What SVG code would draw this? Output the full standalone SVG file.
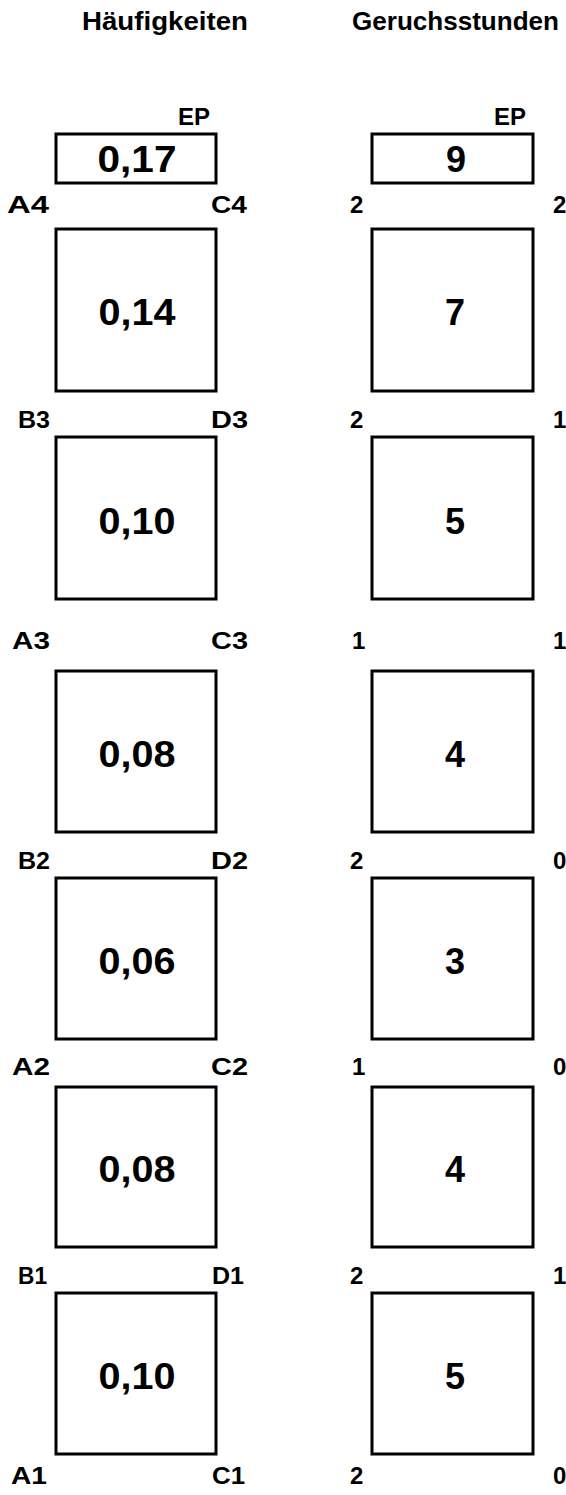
<svg xmlns="http://www.w3.org/2000/svg" width="566" height="1495" viewBox="0 0 566 1495">
<style>
text{font-family:"Liberation Sans",Arial,sans-serif;font-weight:bold;fill:#000}
.box{fill:#fff;stroke:#000;stroke-width:3}
.hd{font-size:25px}
.val{font-size:36px;text-anchor:middle}
.lb{font-size:24px}
</style>
<rect width="566" height="1495" fill="#fff"/>
<g id="headings">
<text class="hd" x="82" y="30" textLength="166" lengthAdjust="spacingAndGlyphs">Häufigkeiten</text>
<text class="hd" x="352" y="30" textLength="207" lengthAdjust="spacingAndGlyphs">Geruchsstunden</text>
</g>
<g id="ep-left">
<text class="lb" x="178" y="125" textLength="32" lengthAdjust="spacingAndGlyphs">EP</text>
<rect class="box" x="56" y="134" width="160" height="49"/>
<text class="val" x="137" y="172" textLength="79" lengthAdjust="spacingAndGlyphs">0,17</text>
</g>
<g id="ep-right">
<text class="lb" x="494" y="125" textLength="32" lengthAdjust="spacingAndGlyphs">EP</text>
<rect class="box" x="372" y="134" width="161" height="49"/>
<text class="val" x="456" y="172">9</text>
</g>
<g id="h4"><rect class="box" x="56" y="229" width="160" height="162"/><text class="val" x="137" y="325" textLength="77" lengthAdjust="spacingAndGlyphs">0,14</text></g>
<g id="g4"><rect class="box" x="372" y="229" width="161" height="162"/><text class="val" x="455" y="325">7</text></g>
<g id="h3"><rect class="box" x="56" y="437" width="160" height="162"/><text class="val" x="137" y="534" textLength="77" lengthAdjust="spacingAndGlyphs">0,10</text></g>
<g id="g3"><rect class="box" x="372" y="437" width="161" height="162"/><text class="val" x="455" y="534">5</text></g>
<g id="h2b"><rect class="box" x="56" y="671" width="160" height="161"/><text class="val" x="137" y="767" textLength="77" lengthAdjust="spacingAndGlyphs">0,08</text></g>
<g id="g2b"><rect class="box" x="372" y="671" width="161" height="161"/><text class="val" x="455" y="767">4</text></g>
<g id="h2"><rect class="box" x="56" y="878" width="160" height="161"/><text class="val" x="137" y="974" textLength="77" lengthAdjust="spacingAndGlyphs">0,06</text></g>
<g id="g2"><rect class="box" x="372" y="878" width="161" height="161"/><text class="val" x="455" y="974">3</text></g>
<g id="h1b"><rect class="box" x="56" y="1087" width="160" height="160"/><text class="val" x="137" y="1182" textLength="77" lengthAdjust="spacingAndGlyphs">0,08</text></g>
<g id="g1b"><rect class="box" x="372" y="1087" width="161" height="160"/><text class="val" x="455" y="1182">4</text></g>
<g id="h1"><rect class="box" x="56" y="1293" width="160" height="161"/><text class="val" x="137" y="1389" textLength="77" lengthAdjust="spacingAndGlyphs">0,10</text></g>
<g id="g1"><rect class="box" x="372" y="1293" width="161" height="161"/><text class="val" x="455" y="1389">5</text></g>
<g id="labels">
<text class="lb" x="7" y="213" textLength="42" lengthAdjust="spacingAndGlyphs">A4</text>
<text class="lb" x="211" y="213" textLength="36" lengthAdjust="spacingAndGlyphs">C4</text>
<text class="lb" x="350" y="213">2</text>
<text class="lb" x="553" y="213">2</text>
<text class="lb" x="18" y="428" textLength="32" lengthAdjust="spacingAndGlyphs">B3</text>
<text class="lb" x="211" y="428" textLength="37" lengthAdjust="spacingAndGlyphs">D3</text>
<text class="lb" x="350" y="428">2</text>
<text class="lb" x="553" y="428">1</text>
<text class="lb" x="12" y="649" textLength="38" lengthAdjust="spacingAndGlyphs">A3</text>
<text class="lb" x="211" y="649" textLength="37" lengthAdjust="spacingAndGlyphs">C3</text>
<text class="lb" x="352" y="649">1</text>
<text class="lb" x="553" y="649">1</text>
<text class="lb" x="18" y="869" textLength="32" lengthAdjust="spacingAndGlyphs">B2</text>
<text class="lb" x="211" y="869" textLength="37" lengthAdjust="spacingAndGlyphs">D2</text>
<text class="lb" x="350" y="869">2</text>
<text class="lb" x="553" y="869">0</text>
<text class="lb" x="12" y="1075" textLength="38" lengthAdjust="spacingAndGlyphs">A2</text>
<text class="lb" x="211" y="1075" textLength="37" lengthAdjust="spacingAndGlyphs">C2</text>
<text class="lb" x="352" y="1075">1</text>
<text class="lb" x="553" y="1075">0</text>
<text class="lb" x="18" y="1284" textLength="29" lengthAdjust="spacingAndGlyphs">B1</text>
<text class="lb" x="212" y="1284" textLength="32" lengthAdjust="spacingAndGlyphs">D1</text>
<text class="lb" x="350" y="1284">2</text>
<text class="lb" x="553" y="1284">1</text>
<text class="lb" x="11" y="1484" textLength="36" lengthAdjust="spacingAndGlyphs">A1</text>
<text class="lb" x="212" y="1484" textLength="33" lengthAdjust="spacingAndGlyphs">C1</text>
<text class="lb" x="350" y="1484">2</text>
<text class="lb" x="553" y="1484">0</text>
</g>
</svg>
